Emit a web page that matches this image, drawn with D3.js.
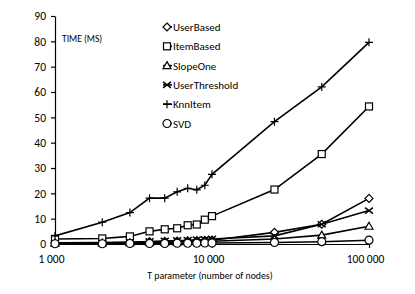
<!DOCTYPE html>
<html>
<head>
<meta charset="utf-8">
<script src="https://cdn.jsdelivr.net/npm/d3@7"></script>
<style>
  body { margin: 0; background: #fff; }
  text { font-family: Carlito, Calibri, Lato, sans-serif; fill: #000; }
</style>
</head>
<body>
<svg id="chart" width="415" height="294"></svg>
<script>
// T parameter values (number of nodes)
var nodes = [1000, 2000, 3000, 4000, 5000, 6000, 7000, 8000, 9000, 10000, 25000, 50000, 100000];

var userBased     = [0.5, 0.6, 0.7, 0.9, 1.0, 1.1, 1.2, 1.3, 1.4, 1.5, 4.6, 7.8, 18.0];
var itemBased     = [2.0, 2.2, 3.0, 5.0, 5.8, 6.2, 7.4, 7.7, 9.6, 11.0, 21.5, 35.5, 54.3];
var slopeOne      = [0.3, 0.4, 0.5, 0.6, 0.7, 0.8, 0.9, 1.0, 1.0, 1.1, 2.0, 3.5, 7.0];
var userThreshold = [0.4, 0.5, 0.7, 1.0, 1.2, 1.4, 1.5, 1.7, 1.8, 2.0, 3.2, 7.8, 13.2];
var knnItem       = [3.2, 8.6, 12.4, 18.1, 18.1, 20.6, 22.0, 21.4, 23.2, 27.5, 48.3, 62.0, 79.6];
var svd           = [0.1, 0.1, 0.2, 0.2, 0.2, 0.3, 0.3, 0.3, 0.4, 0.4, 0.6, 0.9, 1.5];

var seriesNames = ["UserBased", "ItemBased", "SlopeOne", "UserThreshold", "KnnItem", "SVD"];
var seriesValues = [userBased, itemBased, slopeOne, userThreshold, knnItem, svd];
var seriesMarks = ["diamond", "square", "triangle", "cross", "plus", "circle"];

var yTicks = [0, 10, 20, 30, 40, 50, 60, 70, 80, 90];
var xTicks = [1000, 10000, 100000];

var svg = d3.select("#chart");

var x = d3.scaleLog().domain([1000, 100000]).range([55, 369]);
var y = d3.scaleLinear().domain([0, 90]).range([244, 16]);

// y axis
var yAxis = svg.append("g")
    .attr("transform", "translate(55,0)")
    .call(d3.axisLeft(y).tickValues(yTicks).tickSize(4).tickSizeOuter(0).tickPadding(5));
yAxis.selectAll("text").style("font-size", "11.5px");

// x axis
var fmt = function(d){ return d3.format(",")(d).replace(/,/g, " "); };
var xAxis = svg.append("g")
    .attr("transform", "translate(0,244)")
    .call(d3.axisBottom(x).tickValues(xTicks).tickFormat(fmt).tickSize(4).tickSizeOuter(0).tickPadding(7));
xAxis.selectAll("text").style("font-size", "11.5px").attr("dx", -4);
svg.selectAll(".domain, .tick line").attr("stroke", "#000").attr("stroke-width", 1.2);

svg.append("text").attr("x", 62).attr("y", 42).style("font-size", "9.5px").text("TIME (MS)");
svg.append("text").attr("x", 210).attr("y", 279).attr("text-anchor", "middle")
    .style("font-size", "9.8px").text("T parameter (number of nodes)");

function marker(g, kind){
  if (kind === "diamond") {
    g.append("path").attr("d", "M0,-4L4,0L0,4L-4,0Z").attr("fill", "#fff").attr("stroke", "#000").attr("stroke-width", 1.2);
  } else if (kind === "square") {
    g.append("rect").attr("x", -3.5).attr("y", -3.5).attr("width", 7).attr("height", 7)
      .attr("fill", "#fff").attr("stroke", "#000").attr("stroke-width", 1.2);
  } else if (kind === "triangle") {
    g.append("path").attr("d", "M0,-4L4,3L-4,3Z").attr("fill", "#fff").attr("stroke", "#000").attr("stroke-width", 1.2);
  } else if (kind === "cross") {
    g.append("path").attr("d", "M-4,-3L4,3M-4,3L4,-3").attr("stroke", "#000").attr("stroke-width", 1.5);
  } else if (kind === "plus") {
    g.append("path").attr("d", "M-4,0L4,0M0,-4L0,4").attr("stroke", "#000").attr("stroke-width", 1.2);
  } else if (kind === "circle") {
    g.append("circle").attr("r", 4).attr("fill", "#fff").attr("stroke", "#000").attr("stroke-width", 1.2);
  }
}

var line = d3.line().x(function(d){ return x(d[0]); }).y(function(d){ return y(d[1]); });

seriesValues.forEach(function(vals, i){
  var pts = nodes.map(function(n, j){ return [n, vals[j]]; });
  var g = svg.append("g");
  g.append("path").datum(pts).attr("d", line)
    .attr("fill", "none").attr("stroke", "#000").attr("stroke-width", 1.6);
  pts.forEach(function(p){
    marker(g.append("g").attr("transform", "translate(" + x(p[0]) + "," + y(p[1]) + ")"), seriesMarks[i]);
  });
});

// legend
var legend = svg.append("g");
seriesNames.forEach(function(name, i){
  var ly = 27 + i * 19.3;
  var lg = legend.append("g").attr("transform", "translate(0," + ly + ")");
  lg.append("line").attr("x1", 163).attr("x2", 172).attr("stroke", "#000").attr("stroke-width", 1.6);
  marker(lg.append("g").attr("transform", "translate(167,0)"), seriesMarks[i]);
  lg.append("text").attr("x", 173).attr("y", 4).style("font-size", "11px").text(name);
});
</script>
</body>
</html>
